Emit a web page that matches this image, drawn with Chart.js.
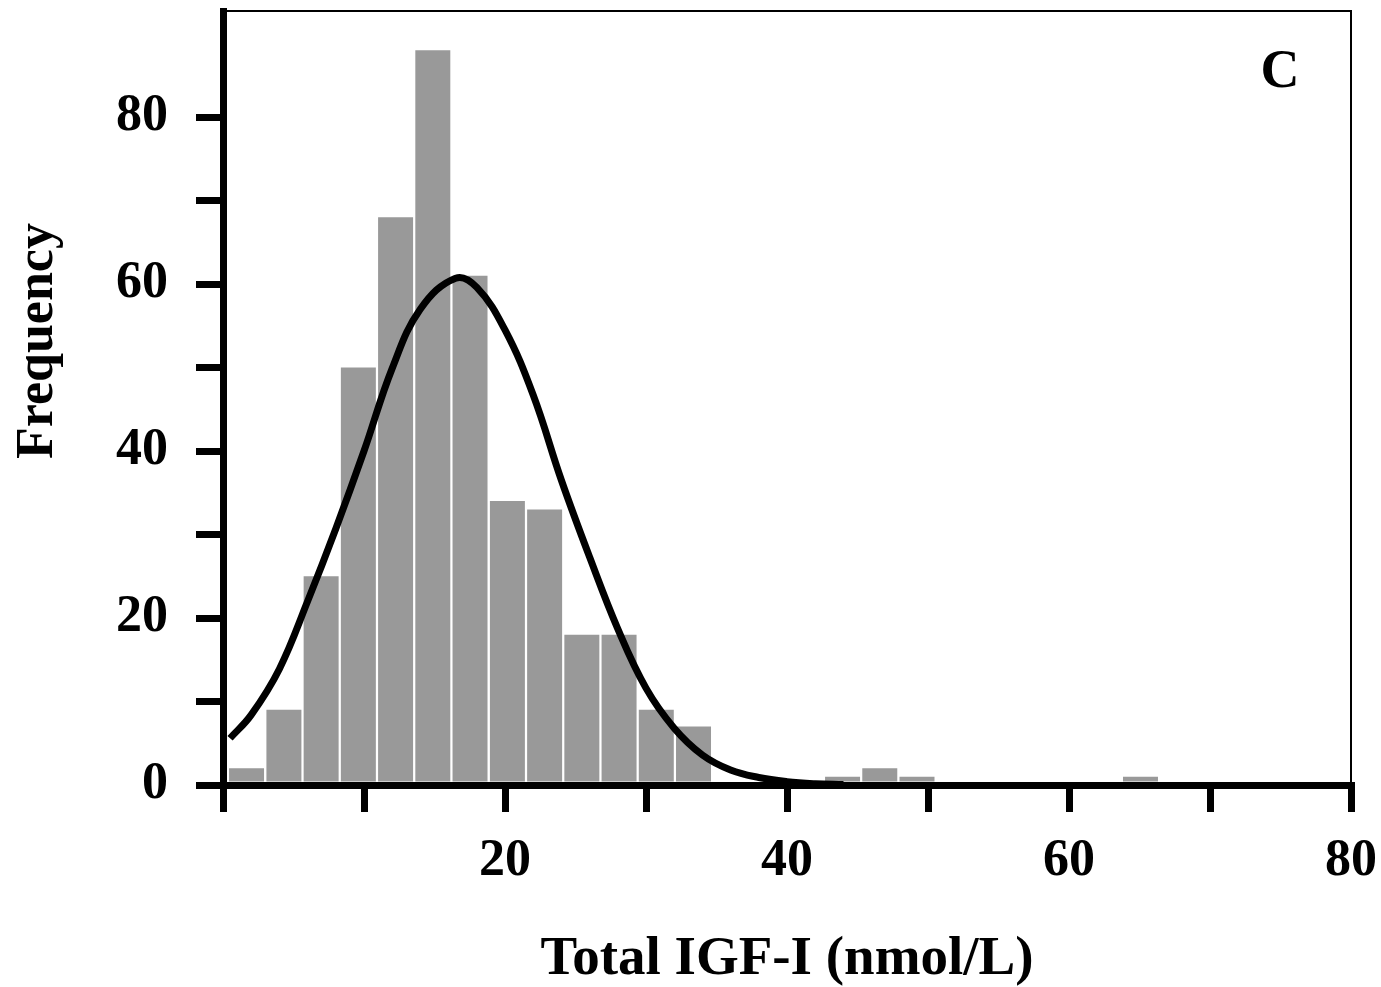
<!DOCTYPE html>
<html>
<head>
<meta charset="utf-8">
<title>Total IGF-I histogram</title>
<script src="https://cdn.jsdelivr.net/npm/chart.js@4.4.1/dist/chart.umd.min.js"></script>
<style>
    html, body { margin: 0; padding: 0; background: #fff; }
    #wrap { width: 1381px; height: 987px; }
</style>
</head>
<body>
<div id="wrap"><canvas id="histo"></canvas></div>
<script>
// histogram bins (centre of each bin, nmol/L) and counts
const binCenters = [1.67, 4.32, 6.96, 9.60, 12.24, 14.88, 17.52, 20.17, 22.81, 25.45, 28.09, 30.73, 33.37,
    36.02, 38.66, 41.30, 43.94, 46.58, 49.22, 51.87, 54.51, 57.15, 59.79, 62.43, 65.07];
const counts = [2, 9, 25, 50, 68, 88, 61, 34, 33, 18, 18, 9, 7,
    0, 0, 0, 1, 2, 1, 0, 0, 0, 0, 0, 1];

// fitted normal curve
const curveX = [0.5, 2, 4, 6, 8, 10, 12, 14, 16.5, 18, 20, 22, 24, 26, 28, 30, 32, 34, 36, 38, 40, 42, 44];
const curveY = [5.6, 8.4, 13.9, 22.0, 30.7, 40.0, 49.9, 57.0, 60.7, 59.6, 54.5, 46.7, 36.5, 27.3, 18.7,
    11.6, 6.8, 3.6, 1.8, 0.9, 0.4, 0.15, 0.05];

const xTickLabels = [20, 40, 60, 80];
const yTickLabels = [0, 20, 40, 60, 80];

const serif = '"Liberation Serif", "Times New Roman", serif';

// thin frame on top/right, y axis title and the panel letter
const framePlugin = {
    id: 'frame',
    afterDraw(chart) {
        const a = chart.chartArea;
        const c = chart.ctx;
        c.save();
        c.strokeStyle = '#000';
        c.lineWidth = 2;
        c.beginPath();
        c.moveTo(a.left, a.top);
        c.lineTo(a.right, a.top);
        c.lineTo(a.right, a.bottom);
        c.stroke();

        c.fillStyle = '#000';
        c.font = 'bold 54px ' + serif;
        c.textAlign = 'center';
        c.textBaseline = 'alphabetic';
        c.fillText('C', a.right - 71, a.top + 76);

        // y title sits a bit above the middle of the axis
        c.translate(52, 341);
        c.rotate(-Math.PI / 2);
        c.font = 'bold 52px ' + serif;
        c.fillText('Frequency', 0, 0);
        c.restore();
    }
};

const ctx = document.getElementById('histo').getContext('2d');

const chart = new Chart(ctx, {
    data: {
        datasets: [{
            type: 'line',
            data: curveX.map((x, i) => ({ x: x, y: curveY[i] })),
            borderColor: '#000',
            borderWidth: 7,
            pointRadius: 0,
            tension: 0.4,
            fill: false
        }, {
            type: 'bar',
            data: binCenters.map((x, i) => ({ x: x, y: counts[i] })),
            backgroundColor: '#999999',
            borderWidth: 0,
            categoryPercentage: 1,
            barPercentage: 0.94
        }]
    },
    options: {
        responsive: true,
        maintainAspectRatio: false,
        animation: false,
        layout: {
            padding: { top: 11, right: 30, bottom: 0, left: 0 }
        },
        plugins: {
            legend: { display: false },
            tooltip: { enabled: false }
        },
        scales: {
            x: {
                type: 'linear',
                min: 0,
                max: 80,
                offset: false,
                border: { color: '#000', width: 7 },
                grid: {
                    offset: false,
                    drawOnChartArea: false,
                    color: '#000',
                    lineWidth: 7,
                    tickLength: 27
                },
                ticks: {
                    stepSize: 10,
                    padding: 24,
                    color: '#000',
                    maxRotation: 0,
                    font: { family: serif, size: 52, weight: 'bold', lineHeight: 1 },
                    callback: function (v) {
                        return xTickLabels.includes(v) ? String(v) : '';
                    }
                },
                title: {
                    display: true,
                    text: 'Total IGF-I (nmol/L)',
                    color: '#000',
                    padding: { top: 0, bottom: 0 },
                    font: { family: serif, size: 55, weight: 'bold', lineHeight: 1 }
                },
                afterFit: function (scale) {
                    scale.height = 202;
                    scale.paddingLeft = 0;
                    scale.paddingRight = 0;
                }
            },
            y: {
                min: 0,
                max: 92.7,
                border: { color: '#000', width: 7 },
                grid: {
                    drawOnChartArea: false,
                    color: '#000',
                    lineWidth: 7,
                    tickLength: 27
                },
                ticks: {
                    stepSize: 10,
                    includeBounds: false,
                    padding: 28,
                    color: '#000',
                    font: { family: serif, size: 52, weight: 'bold', lineHeight: 1 },
                    callback: function (v) {
                        if (v > 80) return null;
                        return yTickLabels.includes(v) ? String(v) : '';
                    }
                },
                afterFit: function (scale) {
                    scale.width = 223;
                    scale.paddingTop = 0;
                    scale.paddingBottom = 0;
                }
            }
        }
    },
    plugins: [framePlugin]
});
</script>
</body>
</html>
